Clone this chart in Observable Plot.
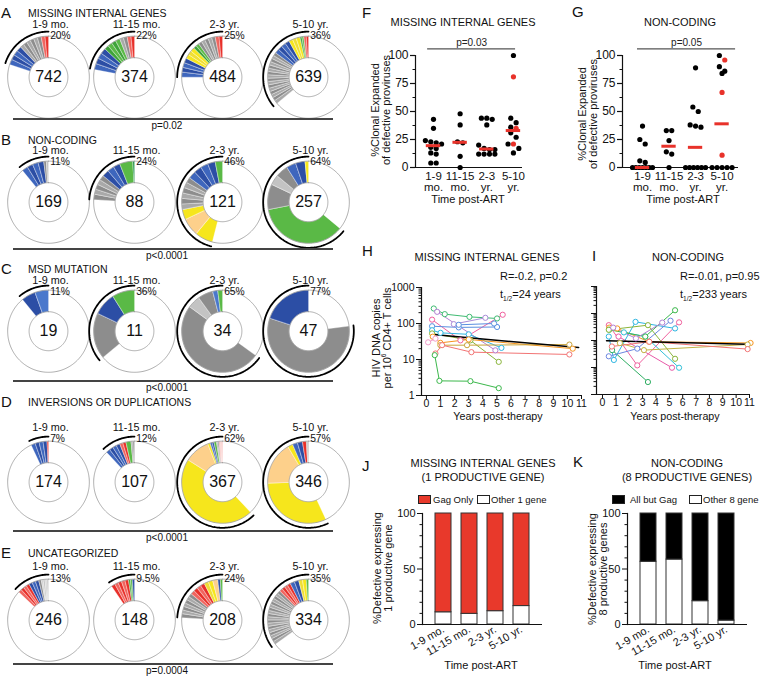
<!DOCTYPE html>
<html><head><meta charset="utf-8">
<script src="https://cdn.jsdelivr.net/npm/d3@7"></script>
<script src="https://cdn.jsdelivr.net/npm/@observablehq/plot@0.6"></script>
<style>
html,body{margin:0;padding:0;background:#fff;}
#fig{position:relative;width:761px;height:677px;overflow:hidden;font-family:"Liberation Sans",Arial,sans-serif;color:#111;background:#fff;}
.t{position:absolute;white-space:nowrap;line-height:1;}
.t sub,.t sup{font-size:60%;line-height:0;}
.hl{position:absolute;background:#444;height:1.5px;}
.box{position:absolute;width:11px;height:7px;border:1px solid #222;}
</style></head><body><div id="fig"></div>
<script>
// ---------------- DATA ----------------
const times = ["1-9 mo.", "11-15 mo.", "2-3 yr.", "5-10 yr."];
const categories = ["MISSING INTERNAL GENES", "NON-CODING", "MSD MUTATION", "INVERSIONS OR DUPLICATIONS", "UNCATEGORIZED"];
const letters = ["A", "B", "C", "D", "E"];
const totals = [[742, 374, 484, 639], [169, 88, 121, 257], [19, 11, 34, 47], [174, 107, 367, 346], [246, 148, 208, 334]];
const clonalPct = [[20, 22, 25, 36], [11, 24, 46, 64], [11, 36, 65, 77], [7, 12, 62, 57], [13, 9.5, 24, 35]];
const pValues = ["p=0.02", "p&lt;0.0001", "p&lt;0.0001", "p&lt;0.0001", "p=0.0004"];
// clone segments, counter-clockwise from 12 o'clock: [colour group, % of proviruses, clones]
const segments = [
  [[["R",3,2],["K",9,6],["B",8,4]],
   [["R",3,2],["K",3,2],["G",7,4],["B",9,4]],
   [["R",3,2],["K",7,5],["G",2.5,2],["Y",5,3],["B",7.5,4]],
   [["R",2,2],["G",1.5,2],["Y",4.5,3],["B",7,4],["K",21,16]]],
  [[["k",1,1],["K",1,1],["B",9,4]],
   [["g",0.8,1],["G",5.2,1],["B",8,3],["K",10,5]],
   [["G",3,1],["B",12,4],["K",13,6],["Y",4,1],["O",7,1],["Y",7,1]],
   [["Y",1.5,1],["B",7.5,2],["K",5,1],["k",4,1],["K",10,1],["G",36,1]]],
  [[["b",5.5,1],["B",5.5,1]],
   [["G",9,1],["B",9,1],["K",18,1]],
   [["G",2,1],["b",2,1],["K",6,1],["k",5,1],["K",50,1]],
   [["B",20,1],["K",57,1]]],
  [[["R",0.7,1],["B",6.3,4]],
   [["K",1.5,2],["G",2,1],["R",2.5,2],["B",6,4]],
   [["r",1.5,3],["K",1,2],["G",1,1],["B",1.5,2],["Y",1,1],["O",10,1],["Y",46,1]],
   [["K",1,2],["R",1.5,1],["B",4,2],["Y",2,1],["O",17,1],["Y",31.5,1]]],
  [[["k",3,4],["K",1,1],["B",4,3],["R",5,4]],
   [["B",1,1],["G",1.5,2],["R",7,5]],
   [["G",1,1],["B",1,1],["O",2,1],["Y",3.5,2],["R",6.5,4],["K",10,7]],
   [["G",1,1],["Y",3,2],["B",3.5,2],["R",5,4],["K",22.5,18]]]
];

// F / G : % clonally expanded defective proviruses per participant
const scatterTimes = ["1-9\nmo.", "11-15\nmo.", "2-3\nyr.", "5-10\nyr."];
const fBlack = [[43,35,24,23,22,21,18,17,13,12,4,4],[48,38,23,22,10,0],[44,44,43,38,20,17,16,16,12,12,12,12],[100,44,40,36,31,27,21,17,13]];
const fRed = [[],[],[],[81,35,21]];
const gBlack = [[37,25,21,6,4.5,0,0,0,0,0,0,0],[33,33,24,14,12,0],[89,54,50,38,37,36,0,0,0,0,0,0],[100,90,86,84,0,0,0,0,0]];
const gRed = [[],[],[],[96,67,11]];

// H / I : HIV DNA copies per 10^6 CD4+ T cells, by participant
const hYears = [[0.52,1.3,3.05,5.01],[0.76,4.89],[1.94,4.18],[0.4,2.41,5.41],[0.4,2.29,5.01],[2.29,4.8],[0.4,1.0,3.0,5.32],[0.4,3.12,5.13],[0.45,0.99,3.0,10.38],[0.99,2.88,10.14],[0.64,1.11,3.19,10.14],[0.59,0.92,3.12,5.13],[0.12,0.64]];
const hCopies = [[261,182,153,138],[211,18],[96,144],[128,34,175],[84,78,80],[92,100],[65,55,50,21],[53,34,8.6],[43,29,36,20],[25,25,26],[14.7,25,16,13.8],[13.2,2.55,2.5,1.6],[30,38]];
const hFit = [[0.3,50],[10.8,21.5]];
const iYears = [[0.47,2.6,5.73],[0.5,1.1,3.48,11.08],[0.47,0.85,2.47,5.43],[1.6,3.2,5.73],[0.72,3.4],[0.5,3.2,5.43],[0.47,3.4,5.43],[1.3,3.1,10.86],[0.47,2.6,5.09],[0.8,2.5,4.47],[1.2,5.2],[0.7,3.5,10.86]];
const iCopies = [[37,1.2,47],[30,28,9,8.1],[14,1.9,49,28],[20,14,0.98],[4.4,0.29],[25,14,132],[25,37,2.1],[8,4.4,7.1],[2.6,5,54],[30,12,46],[14,0.98],[6,9,4.8]];
const iFit = [[0.3,9.8],[10.8,7.3]];

// J / K : % defective expressing productive genes
const barTimes = ["1-9 mo.", "11-15 mo.", "2-3 yr.", "5-10 yr."];
const jGagOnly = [89, 90.4, 88, 83.4];
const jOther = [11, 9.6, 12, 16.6];
const kAllButGag = [43.5, 41.5, 79, 96.5];
const kOther = [56.5, 58.5, 21, 3.5];

// ---------------- STYLE ----------------
const FONT = "Liberation Sans, Arial, sans-serif";
const palette = {
  R: ["#e8302a", "#f0655f"], r: ["#f4a09b", "#f7bcb8"], G: ["#5ab946", "#3fa43a"], g: ["#138a3c", "#138a3c"],
  Y: ["#f6e61c", "#efdf36"], O: ["#fdd08b", "#fdd08b"], B: ["#2c4ea5", "#3e66bd"], b: ["#4a78cc", "#4a78cc"],
  K: ["#8d8d8d", "#a9a9a9"], k: ["#c3c3c3", "#d2d2d2"]
};
const hColors = ["#3fbb72","#b47fd2","#a98bd8","#f0609e","#5a8fe0","#5a8fe0","#2fb6e2","#8ab53b","#f7941d","#c9a33b","#f27474","#3cb84c","#f29ac8"];
const iColors = ["#f0609e","#f7941d","#2fb6e2","#33c0d8","#2fae63","#3cb84c","#8ab53b","#c2b243","#6b86e0","#b47fd2","#e85aa8","#f27474"];
const RED = "#e8322a";

const fig = document.getElementById("fig");
function put(node, left, top) {
  node.style.position = "absolute"; node.style.left = left + "px"; node.style.top = top + "px";
  node.style.overflow = "visible"; node.style.maxWidth = "none";
  fig.appendChild(node); return node;
}
function txt(html, x, y, o = {}) {
  const {size = 11, anchor = "middle", rotate = 0} = o;
  const d = document.createElement("div");
  d.className = "t"; d.innerHTML = html;
  d.style.left = x + "px"; d.style.top = y + "px"; d.style.fontSize = size + "px";
  const tx = anchor === "start" ? "0" : anchor === "end" ? "-100%" : "-50%";
  d.style.transform = `translate(${tx},-50%)` + (rotate ? ` rotate(${rotate}deg)` : "");
  fig.appendChild(d); return d;
}
function hline(x, y, w) {
  const d = document.createElement("div"); d.className = "hl";
  d.style.left = x + "px"; d.style.top = y + "px"; d.style.width = w + "px"; fig.appendChild(d);
}
function box(x, y, color) {
  const d = document.createElement("div"); d.className = "box";
  d.style.left = x + "px"; d.style.top = y + "px"; d.style.background = color; fig.appendChild(d);
}

// ---------------- DONUTS (A-E) ----------------
const K = 41, rOut = 1, rIn = 0.475, rArc = 1.11;
const colX = [48, 134, 222, 308];
const rowY = [77, 202, 331, 482, 620];
const titleY = [12, 138.5, 268, 401, 552];
const timeY = [24, 150.5, 280.5, 427, 566];
const pctY = [35.5, 161.5, 291.5, 438.5, 579];
const lineY = [118, 248, 380, 530, 663];
function ring(r, f0, f1) {
  const n = Math.max(2, Math.ceil(Math.abs(f1 - f0) * 240));
  return d3.range(n + 1).map(i => {
    const a = (f0 + (f1 - f0) * i / n) * 2 * Math.PI;
    return [-r * Math.sin(a), r * Math.cos(a)];
  });
}
function donut(segs, total, pct, time, yTime, yPct) {
  const polys = []; let a = 0, id = 0;
  segs.forEach(([key, p, n]) => {
    for (let j = 0; j < n; j++) {
      const a0 = a, a1 = a + p / 100 / n; a = a1;
      const fill = palette[key][j % 2];
      ring(rOut, a0, a1).concat(ring(rIn, a1, a0)).forEach(([x, y]) => polys.push({id, x, y, fill}));
      id++;
    }
  });
  return Plot.plot({
    width: 98, height: 115, margin: 0,
    x: {domain: [-1.2, 1.2], axis: null}, y: {domain: [-1.2, 1.6], axis: null},
    color: {type: "identity"},
    style: {fontFamily: FONT, background: "transparent", overflow: "visible"},
    marks: [
      Plot.line(polys, {x: "x", y: "y", z: "id", fill: "fill", stroke: "white", strokeWidth: 0.35, curve: "linear-closed"}),
      Plot.line(ring(rOut, 0, 1), {stroke: "#8a8a8a", strokeWidth: 0.7}),
      Plot.line(ring(rIn, 0, 1), {stroke: "#8a8a8a", strokeWidth: 0.7}),
      Plot.line(ring(rArc, 0, pct / 100), {stroke: "black", strokeWidth: 1.8}),
      Plot.text([String(total)], {x: 0, y: 0, fontSize: 16, fill: "#111"}),
      Plot.text([time], {x: 0.05, y: yTime, fontSize: 10.8, fill: "#111"}),
      Plot.text([pct + "%"], {x: 0.04, y: yPct, textAnchor: "start", fontSize: 10.3, fill: "#111"})
    ]
  });
}
categories.forEach((cat, ri) => {
  txt(letters[ri], 1, titleY[ri], {size: 15, anchor: "start"});
  txt(cat, 28, titleY[ri] + 1, {size: 10.5, anchor: "start"});
  times.forEach((t, ci) => {
    const node = donut(segments[ri][ci], totals[ri][ci], clonalPct[ri][ci], t,
      (rowY[ri] - timeY[ri]) / K, (rowY[ri] - pctY[ri]) / K);
    put(node, colX[ci] - 1.2 * K, rowY[ri] - 1.6 * K);
  });
  hline(13, lineY[ri], 320);
  txt(pValues[ri], 167, lineY[ri] + 8, {size: 10});
});

// ---------------- SCATTER (F, G) ----------------
function scatter(cfg) {
  const {black, red, width, height, ml, mt, mr, mb, xDomain, pLine} = cfg;
  const kx = (width - ml - mr) / (xDomain[1] - xDomain[0]);
  const ky = (height - mt - mb) / 100;
  const d = 5.4, maxW = 20;
  const pts = [];
  black.forEach((vals, i) => {
    const all = vals.map(v => ({v, red: false})).concat(red[i].map(v => ({v, red: true}))).sort((a, b) => b.v - a.v);
    const rows = [];
    for (const p of all) {
      const row = rows[rows.length - 1];
      if (row && (row[0].v - p.v) * ky < d * 0.85) row.push(p); else rows.push([p]);
    }
    rows.forEach(row => {
      const step = row.length > 1 ? Math.min(d, maxW / (row.length - 1)) : 0;
      row.forEach((p, j) => pts.push({v: p.v, red: p.red, x: i + 1 + (j - (row.length - 1) / 2) * step / kx}));
    });
  });
  pts.sort((a, b) => a.red - b.red);
  const med = black.map((vals, i) => ({c: i + 1, m: d3.median(vals.concat(red[i]))}));
  return Plot.plot({
    width, height, marginLeft: ml, marginTop: mt, marginRight: mr, marginBottom: mb,
    x: {domain: xDomain, axis: null, label: null}, y: {domain: [0, 100], label: null},
    color: {type: "identity"},
    style: {fontFamily: FONT, fontSize: "12px", color: "#111", overflow: "visible"},
    marks: [
      Plot.ruleX([xDomain[0]], {y1: 0, y2: 100, strokeWidth: 1.2}),
      Plot.ruleY([0], {strokeWidth: 1.2}),
      Plot.axisY({ticks: [0, 25, 50, 75, 100], tickSize: 5, tickPadding: 2, fontSize: 12, strokeWidth: 1.2}),
      Plot.axisY({ticks: [12.5, 37.5, 62.5, 87.5], tickSize: 2.5, tickFormat: () => ""}),
      Plot.text(scatterTimes, {x: (dd, i) => i + 1, y: 0, dy: 5, lineAnchor: "top", lineHeight: 0.95, fontSize: 11.5, fill: "#111"}),
      Plot.ruleY([pLine.y], {x1: pLine.x1, x2: pLine.x2, stroke: "#555", strokeWidth: 1.3}),
      Plot.text([pLine.text], {x: (pLine.x1 + pLine.x2) / 2, y: pLine.y + 5.5, fontSize: 10, fill: "#222"}),
      Plot.dot(pts, {x: "x", y: "v", r: 2.6, fill: p => p.red ? RED : "black", stroke: null}),
      Plot.ruleY(med, {y: "m", x1: m => m.c - 0.27, x2: m => m.c + 0.27, stroke: RED, strokeWidth: 3})
    ]
  });
}
put(scatter({black: fBlack, red: fRed, width: 170, height: 160, ml: 55, mt: 15, mr: 8, mb: 33,
  xDomain: [0.325, 4.34], pLine: {y: 106, x1: 0.78, x2: 4.08, text: "p=0.03"}}), 360, 40);
put(scatter({black: gBlack, red: gRed, width: 185, height: 160, ml: 52, mt: 15, mr: 17, mb: 33,
  xDomain: [0.245, 4.62], pLine: {y: 106, x1: 0.81, x2: 4.51, text: "p=0.05"}}), 570, 40);
txt("F", 362, 12, {size: 15, anchor: "start"});
txt("G", 572, 11, {size: 15, anchor: "start"});
txt("MISSING INTERNAL GENES", 463, 22, {size: 11});
txt("NON-CODING", 680, 22, {size: 11});
txt("%Clonal Expanded", 375, 110, {size: 11, rotate: -90});
txt("of defective proviruses", 386, 110, {size: 11, rotate: -90});
txt("%Clonal Expanded", 582, 114, {size: 11, rotate: -90});
txt("of defective proviruses", 593, 114, {size: 11, rotate: -90});
txt("Time post-ART", 468, 199, {size: 11});
txt("Time post-ART", 683, 199, {size: 11});

// ---------------- LINES (H, I) ----------------
function series(years, copies, colors) {
  return years.flatMap((ys, i) => ys.map((x, j) => ({id: i, x, y: copies[i][j], c: colors[i]})));
}
function decayPanel(cfg) {
  const {rows, fit, width, height, ml, mt, mr, mb, xDomain, yDomain, labels} = cfg;
  const decades = d3.range(Math.log10(yDomain[0]), Math.log10(yDomain[1]) + 1).map(e => 10 ** e);
  const minor = decades.slice(0, -1).flatMap(p => d3.range(2, 10).map(m => m * p));
  return Plot.plot({
    width, height, marginLeft: ml, marginTop: mt, marginRight: mr, marginBottom: mb,
    x: {domain: xDomain, label: null}, y: {type: "log", domain: yDomain, label: null},
    color: {type: "identity"},
    style: {fontFamily: FONT, fontSize: "10.5px", color: "#111", overflow: "visible"},
    marks: [
      Plot.ruleX([xDomain[0]], {strokeWidth: 1.2}),
      Plot.ruleY([yDomain[0]], {strokeWidth: 1.2}),
      Plot.axisY({ticks: decades, tickSize: 5, tickPadding: 2, fontSize: 10.5, tickFormat: labels ? d3.format("d") : () => ""}),
      Plot.axisY({ticks: minor, tickSize: 2.5, tickFormat: () => ""}),
      Plot.axisX({ticks: d3.range(0, 12), tickSize: 4, tickPadding: 0, fontSize: 10.5, tickFormat: d3.format("d")}),
      Plot.line(rows, {x: "x", y: "y", z: "id", stroke: "c", strokeWidth: 1}),
      Plot.line(fit, {stroke: "black", strokeWidth: 1.5}),
      Plot.dot(rows, {x: "x", y: "y", r: 2.6, stroke: "c", fill: "white", strokeWidth: 1})
    ]
  });
}
put(decayPanel({rows: series(hYears, hCopies, hColors), fit: hFit, width: 225, height: 150, ml: 61, mt: 17, mr: 4, mb: 25,
  xDomain: [-0.35, 11], yDomain: [1, 1000], labels: true}), 360, 270);
put(decayPanel({rows: series(iYears, iCopies, iColors), fit: iFit, width: 185, height: 150, ml: 26, mt: 16, mr: 6, mb: 26,
  xDomain: [-0.45, 11], yDomain: [0.1, 1000], labels: false}), 570, 270);
txt("H", 362, 250, {size: 15, anchor: "start"});
txt("I", 592, 255, {size: 15, anchor: "start"});
txt("MISSING INTERNAL GENES", 487, 257, {size: 11});
txt("NON-CODING", 688, 257, {size: 11});
txt("R=-0.2, p=0.2", 500, 276, {size: 11, anchor: "start"});
txt("t<sub>1/2</sub>=24 years", 500, 294, {size: 11, anchor: "start"});
txt("R=-0.01, p=0.95", 680, 276, {size: 11, anchor: "start"});
txt("t<sub>1/2</sub>=233 years", 680, 294, {size: 11, anchor: "start"});
txt("HIV DNA copies", 376, 338, {size: 11, rotate: -90});
txt("per 10<sup>6</sup> CD4+ T cells", 387, 338, {size: 11, rotate: -90});
txt("Years post-therapy", 498, 416, {size: 10.7});
txt("Years post-therapy", 675, 416, {size: 10.7});

// ---------------- BARS (J, K) ----------------
function barPanel(cfg) {
  const {main, other, mainColor, width, height, ml, mt, mr, mb} = cfg;
  const rows = barTimes.flatMap((t, i) => [{t, fill: "white", v: other[i]}, {t, fill: mainColor, v: main[i]}]);
  return Plot.plot({
    width, height, marginLeft: ml, marginTop: mt, marginRight: mr, marginBottom: mb,
    x: {domain: barTimes, paddingInner: 0.385, paddingOuter: 0.5, label: null},
    y: {domain: [0, 100], label: null},
    color: {type: "identity"},
    style: {fontFamily: FONT, fontSize: "11px", color: "#111", overflow: "visible"},
    marks: [
      Plot.barY(rows, {x: "t", y: "v", fill: "fill", stroke: "#333", strokeWidth: 1}),
      Plot.ruleY([0], {strokeWidth: 1.2}),
      Plot.frame({anchor: "left", strokeWidth: 1.2}),
      Plot.axisY({ticks: [0, 50, 100], tickSize: 5, tickPadding: 2, fontSize: 11}),
      Plot.axisY({ticks: d3.range(10, 100, 10).filter(v => v !== 50), tickSize: 2.5, tickFormat: () => ""}),
      Plot.axisX({tickSize: 0, tickRotate: -30, tickPadding: 4, fontSize: 11})
    ]
  });
}
put(barPanel({main: jGagOnly, other: jOther, mainColor: "#e8392b", width: 190, height: 172, ml: 62, mt: 8, mr: 8, mb: 53}), 360, 505);
put(barPanel({main: kAllButGag, other: kOther, mainColor: "#000000", width: 190, height: 172, ml: 57, mt: 8, mr: 13, mb: 53}), 570, 505);
txt("J", 362, 465, {size: 15, anchor: "start"});
txt("K", 573, 461, {size: 15, anchor: "start"});
txt("MISSING INTERNAL GENES", 483, 463, {size: 11});
txt("(1 PRODUCTIVE GENE)", 483, 477, {size: 11});
txt("NON-CODING", 687, 463, {size: 11});
txt("(8 PRODUCTIVE GENES)", 687, 477, {size: 11});
box(418, 495, "#e8392b"); txt("Gag Only", 433, 499.5, {size: 9.5, anchor: "start"});
box(477, 495, "#ffffff"); txt("Other 1 gene", 491, 499.5, {size: 9.5, anchor: "start"});
box(612, 495, "#000000"); txt("All but Gag", 630, 499.5, {size: 9.5, anchor: "start"});
box(689, 495, "#ffffff"); txt("Other 8 gene", 703, 499.5, {size: 9.5, anchor: "start"});
txt("%Defective expressing", 377, 568, {size: 11, rotate: -90});
txt("1 productive gene", 388, 568, {size: 11, rotate: -90});
txt("%Defective expressing", 592, 569, {size: 11, rotate: -90});
txt("8 productive genes", 603, 569, {size: 11, rotate: -90});
txt("Time post-ART", 481, 665, {size: 11});
txt("Time post-ART", 675, 665, {size: 11});
</script></body></html>
